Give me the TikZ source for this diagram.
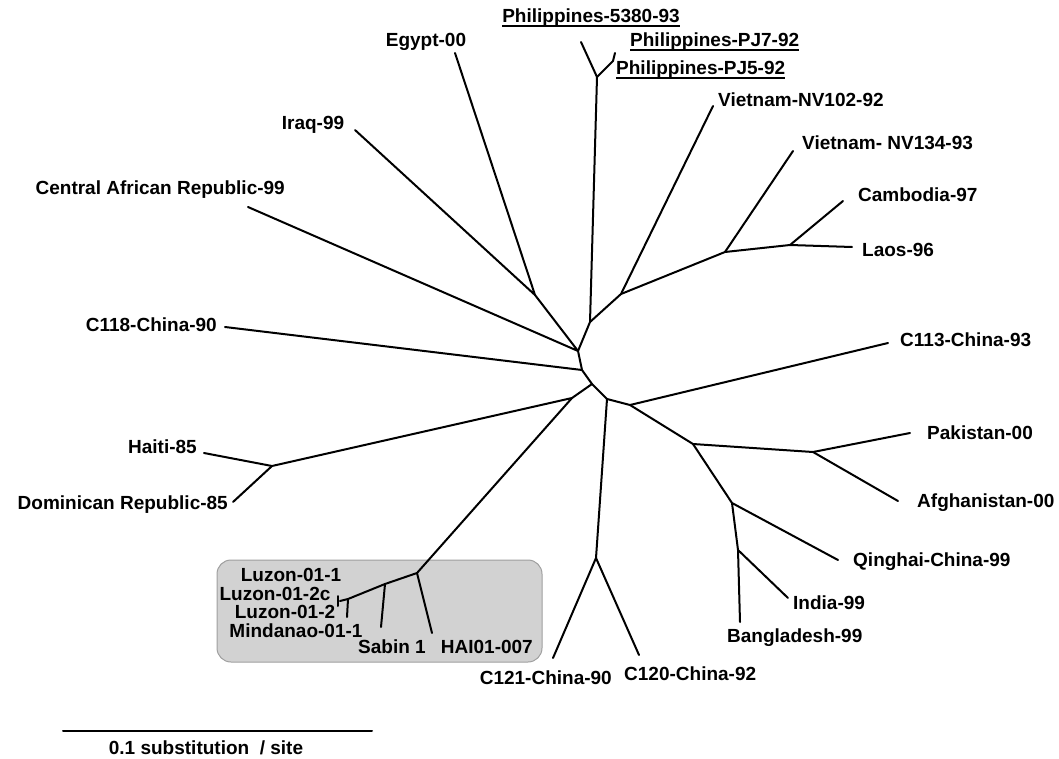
\documentclass[tikz,border=0pt]{standalone}
\usepackage{fontspec}
\setmainfont{Liberation Sans}
\tikzset{
  branch/.style={line width=2pt, line cap=round, line join=round},
  lab/.style={font=\fontsize{19}{21}\selectfont\bfseries, inner sep=0pt},
  uline/.style={line width=1.4pt},
}
\begin{document}
\begin{tikzpicture}[x=1pt,y=-1pt]
  \useasboundingbox (0,0) rectangle (1059,759);
  % shaded group
  \draw[rounded corners=14pt, fill=gray!35, draw=gray!75, line width=1pt] (217,560) rectangle (542,662);
  % inner nodes
  \coordinate (n1) at (578,351);
  \coordinate (nEI) at (535,295);
  \coordinate (nP) at (590,322);
  \coordinate (nPh) at (597,77);
  \coordinate (nPJ) at (613,61);
  \coordinate (nV) at (621,294);
  \coordinate (nVC) at (725,252);
  \coordinate (nCL) at (790,245);
  \coordinate (n2) at (582,370);
  \coordinate (n3) at (592,384);
  \coordinate (nS) at (572,398);
  \coordinate (nH) at (272,466);
  \coordinate (nB) at (417,573);
  \coordinate (nB1) at (385,584);
  \coordinate (nB2) at (348,599);
  \coordinate (n4) at (607,399);
  \coordinate (nC) at (596,558);
  \coordinate (n5) at (630,405);
  \coordinate (nA) at (693,444);
  \coordinate (nPk) at (813,452);
  \coordinate (nQ) at (732,503);
  \coordinate (nI) at (738,550);
  % leaf ends
  \coordinate (lEgypt) at (455,53);
  \coordinate (lIraq) at (355,130);
  \coordinate (lCAR) at (248,207);
  \coordinate (lC118) at (225,327);
  \coordinate (lHaiti) at (204,453);
  \coordinate (lDom) at (233,502);
  \coordinate (lLuz) at (340,601);
  \coordinate (tk1) at (338,596);
  \coordinate (tk2) at (338,606);
  \coordinate (lMin) at (347,617);
  \coordinate (lSab) at (381,627);
  \coordinate (lHAI) at (432,633);
  \coordinate (lC121) at (553,658);
  \coordinate (lC120) at (639,655);
  \coordinate (lBang) at (740,622);
  \coordinate (lInd) at (788,598);
  \coordinate (lQing) at (838,560);
  \coordinate (lAfg) at (898,501);
  \coordinate (lPak) at (910,433);
  \coordinate (lC113) at (888,343);
  \coordinate (lLaos) at (852,247);
  \coordinate (lCamb) at (843,201);
  \coordinate (lNV134) at (793,151);
  \coordinate (lNV102) at (713,106);
  \coordinate (lP5380) at (581,42);
  \coordinate (lPJ) at (615,53);

  % branches
  \draw[branch] (lEgypt) -- (nEI) -- (lIraq);
  \draw[branch] (nEI) -- (n1) -- (lCAR);
  \draw[branch] (n1) -- (nP) -- (nPh) -- (lP5380);
  \draw[branch] (nPh) -- (nPJ) -- (lPJ);
  \draw[branch] (nP) -- (nV) -- (lNV102);
  \draw[branch] (nV) -- (nVC) -- (lNV134);
  \draw[branch] (nVC) -- (nCL) -- (lLaos);
  \draw[branch] (nCL) -- (lCamb);
  \draw[branch] (n1) -- (n2) -- (lC118);
  \draw[branch] (n2) -- (n3) -- (nS) -- (nH) -- (lHaiti);
  \draw[branch] (nH) -- (lDom);
  \draw[branch] (nS) -- (nB) -- (lHAI);
  \draw[branch] (nB) -- (nB1) -- (nB2) -- (lLuz);
  \draw[branch] (nB1) -- (lSab);
  \draw[branch] (nB2) -- (lMin);
  \draw[branch] (tk1) -- (tk2);
  \draw[branch] (n3) -- (n4) -- (nC) -- (lC121);
  \draw[branch] (nC) -- (lC120);
  \draw[branch] (n4) -- (n5) -- (lC113);
  \draw[branch] (n5) -- (nA) -- (nPk) -- (lPak);
  \draw[branch] (nPk) -- (lAfg);
  \draw[branch] (nA) -- (nQ) -- (lQing);
  \draw[branch] (nQ) -- (nI) -- (lInd);
  \draw[branch] (nI) -- (lBang);

  % labels
  \node[lab] (tEgypt) at (426,42) {Egypt-00};
  \node[lab] (tIraq) at (313,125) {Iraq-99};
  \node[lab, anchor=east] (tCAR) at (285,190) {Central African Republic-99};
  \node[lab, anchor=east] (tC118) at (217,325) {C118-China-90};
  \node[lab, anchor=east] (tHaiti) at (197,447) {Haiti-85};
  \node[lab, anchor=east] (tDom) at (228,505) {Dominican Republic-85};
  \node[lab] (tLuz1) at (291,575) {Luzon-01-1};
  \node[lab] (tLuz2c) at (275,594) {Luzon-01-2c};
  \node[lab] (tLuz2) at (285,612) {Luzon-01-2};
  \node[lab] (tMin) at (296,631) {Mindanao-01-1};
  \node[lab] (tSab) at (392,647) {Sabin 1};
  \node[lab, anchor=east] (tHAI) at (533,647) {HAI01-007};
  \node[lab, anchor=east] (tC121) at (612,678) {C121-China-90};
  \node[lab, anchor=west] (tC120) at (624,674) {C120-China-92};
  \node[lab, anchor=west] (tBang) at (727,638) {Bangladesh-99};
  \node[lab, anchor=west] (tInd) at (793,603) {India-99};
  \node[lab, anchor=west] (tQing) at (853,562) {Qinghai-China-99};
  \node[lab, anchor=west] (tAfg) at (917,503) {Afghanistan-00};
  \node[lab, anchor=west] (tPak) at (927,433) {Pakistan-00};
  \node[lab, anchor=west] (tC113) at (900,340) {C113-China-93};
  \node[lab, anchor=west] (tLaos) at (862,250) {Laos-96};
  \node[lab, anchor=west] (tCamb) at (858,195) {Cambodia-97};
  \node[lab, anchor=west] (tNV134) at (802,143) {Vietnam- NV134-93};
  \node[lab, anchor=west] (tNV102) at (718,100) {Vietnam-NV102-92};
  \node[lab] (tP5380) at (591,18) {Philippines-5380-93};
  \node[lab, anchor=west] (tPJ7) at (630,42) {Philippines-PJ7-92};
  \node[lab, anchor=west] (tPJ5) at (616,70) {Philippines-PJ5-92};
  % underlines
  \draw[uline] ([yshift=-3pt]tP5380.base west) -- ([yshift=-3pt]tP5380.base east);
  \draw[uline] ([yshift=-3pt]tPJ7.base west) -- ([yshift=-3pt]tPJ7.base east);
  \draw[uline] ([yshift=-3pt]tPJ5.base west) -- ([yshift=-3pt]tPJ5.base east);

  % scale bar
  \coordinate (s1) at (63,731);
  \coordinate (s2) at (372,731);
  \draw[branch] (s1) -- (s2);
  \node[lab] (tScale) at (206,748) {0.1 substitution~ / site};
\end{tikzpicture}
\end{document}
